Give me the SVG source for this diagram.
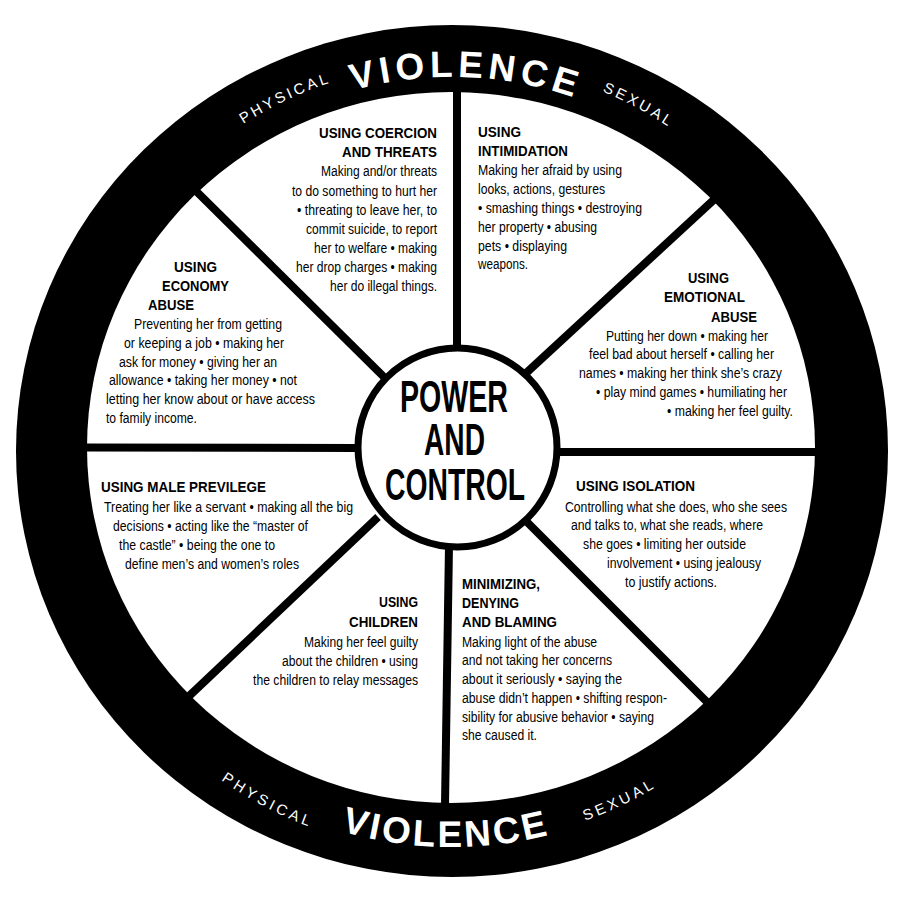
<svg xmlns="http://www.w3.org/2000/svg" xmlns:xlink="http://www.w3.org/1999/xlink" width="900" height="900" viewBox="0 0 900 900">
<style>
text{font-family:"Liberation Sans",Arial,sans-serif;fill:#000}
.h{font-size:15.5px;font-weight:bold}
.b{font-size:14px}
.c{font-size:44px;font-weight:bold}
.rimBig{font-size:37px;font-weight:bold;fill:#fff}
.rimSm{font-size:15px;fill:#fff}
.spoke{stroke:#000;stroke-width:8;fill:none}
</style>
<defs>
<path id="tV" d="M79,450 A373,373 0 0 1 825,450"/>
<path id="tP" d="M65,450 A387,387 0 0 1 839,450"/>
<path id="tS" d="M63,450 A389,389 0 0 1 841,450"/>
<path id="bP" d="M49,450 A403,403 0 0 0 855,450"/>
<path id="bV" d="M55,450 A397,397 0 0 0 849,450"/>
<path id="bS" d="M58,450 A394,394 0 0 0 846,450"/>
</defs>
<rect width="900" height="900" fill="#fff"/>
<g id="rim">
<ellipse cx="452" cy="451" rx="436" ry="426" fill="#000"/>
<ellipse cx="451" cy="447.5" rx="364" ry="355.5" fill="#fff"/>
<text class="rimBig" letter-spacing="5" text-anchor="middle"><textPath xlink:href="#tV" href="#tV" startOffset="51.2%">VIOLENCE</textPath></text>
<text class="rimSm" letter-spacing="3" text-anchor="middle"><textPath xlink:href="#tP" href="#tP" startOffset="35.9%">PHYSICAL</textPath></text>
<text class="rimSm" letter-spacing="3" text-anchor="middle"><textPath xlink:href="#tS" href="#tS" startOffset="65.8%">SEXUAL</textPath></text>
<text class="rimSm" letter-spacing="3.5" text-anchor="middle"><textPath xlink:href="#bP" href="#bP" startOffset="34.6%">PHYSICAL</textPath></text>
<text class="rimBig" letter-spacing="3" text-anchor="middle"><textPath xlink:href="#bV" href="#bV" startOffset="49.5%">VIOLENCE</textPath></text>
<text class="rimSm" letter-spacing="3.5" text-anchor="middle"><textPath xlink:href="#bS" href="#bS" startOffset="64.2%">SEXUAL</textPath></text>
</g>
<g id="connectors">
<line class="spoke" x1="457" y1="90" x2="457" y2="352"/>
<line class="spoke" x1="449" y1="545" x2="445" y2="805"/>
<line class="spoke" x1="85" y1="447.5" x2="357" y2="448"/>
<line class="spoke" x1="558" y1="452" x2="817" y2="452"/>
<line class="spoke" x1="196" y1="191" x2="386" y2="379"/>
<line class="spoke" x1="719" y1="195" x2="524" y2="375"/>
<line class="spoke" x1="186" y1="699" x2="378" y2="517"/>
<line class="spoke" x1="707" y1="702" x2="525" y2="520"/>
</g>
<g id="center">
<circle cx="457.5" cy="447.5" r="99.5" fill="#fff" stroke="#000" stroke-width="7"/>
<text class="c" x="400" y="412" textLength="108" lengthAdjust="spacingAndGlyphs">POWER</text>
<text class="c" x="424" y="455" textLength="61" lengthAdjust="spacingAndGlyphs">AND</text>
<text class="c" x="385" y="500" textLength="140" lengthAdjust="spacingAndGlyphs">CONTROL</text>
</g>
<g id="coercion">
<text class="h" x="319" y="138" textLength="118" lengthAdjust="spacingAndGlyphs">USING COERCION</text>
<text class="h" x="342" y="157" textLength="95" lengthAdjust="spacingAndGlyphs">AND THREATS</text>
<text class="b" x="321" y="176" textLength="116" lengthAdjust="spacingAndGlyphs">Making and/or threats</text>
<text class="b" x="292" y="196" textLength="145" lengthAdjust="spacingAndGlyphs">to do something to hurt her</text>
<text class="b" x="297" y="215" textLength="140" lengthAdjust="spacingAndGlyphs">• threating to leave her, to</text>
<text class="b" x="306" y="234" textLength="131" lengthAdjust="spacingAndGlyphs">commit suicide, to report</text>
<text class="b" x="314" y="253" textLength="123" lengthAdjust="spacingAndGlyphs">her to welfare • making</text>
<text class="b" x="296" y="272" textLength="141" lengthAdjust="spacingAndGlyphs">her drop charges • making</text>
<text class="b" x="330" y="291" textLength="107" lengthAdjust="spacingAndGlyphs">her do illegal things.</text>
</g>
<g id="intimidation">
<text class="h" x="478" y="137" textLength="43" lengthAdjust="spacingAndGlyphs">USING</text>
<text class="h" x="478" y="156" textLength="90" lengthAdjust="spacingAndGlyphs">INTIMIDATION</text>
<text class="b" x="478" y="175" textLength="144" lengthAdjust="spacingAndGlyphs">Making her afraid by using</text>
<text class="b" x="478" y="194" textLength="127" lengthAdjust="spacingAndGlyphs">looks, actions, gestures</text>
<text class="b" x="478" y="213" textLength="164" lengthAdjust="spacingAndGlyphs">• smashing things • destroying</text>
<text class="b" x="478" y="232" textLength="119" lengthAdjust="spacingAndGlyphs">her property • abusing</text>
<text class="b" x="478" y="251" textLength="89" lengthAdjust="spacingAndGlyphs">pets • displaying</text>
<text class="b" x="478" y="269" textLength="50" lengthAdjust="spacingAndGlyphs">weapons.</text>
</g>
<g id="emotional">
<text class="h" x="688" y="283" textLength="41" lengthAdjust="spacingAndGlyphs">USING</text>
<text class="h" x="664" y="302" textLength="81" lengthAdjust="spacingAndGlyphs">EMOTIONAL</text>
<text class="h" x="711" y="322" textLength="46" lengthAdjust="spacingAndGlyphs">ABUSE</text>
<text class="b" x="606" y="341" textLength="162" lengthAdjust="spacingAndGlyphs">Putting her down • making her</text>
<text class="b" x="589" y="359" textLength="185" lengthAdjust="spacingAndGlyphs">feel bad about herself • calling her</text>
<text class="b" x="579" y="378" textLength="203" lengthAdjust="spacingAndGlyphs">names • making her think she’s crazy</text>
<text class="b" x="596" y="397" textLength="191" lengthAdjust="spacingAndGlyphs">• play mind games • humiliating her</text>
<text class="b" x="667" y="416" textLength="126" lengthAdjust="spacingAndGlyphs">• making her feel guilty.</text>
</g>
<g id="isolation">
<text class="h" x="576" y="491" textLength="119" lengthAdjust="spacingAndGlyphs">USING ISOLATION</text>
<text class="b" x="565" y="512" textLength="222" lengthAdjust="spacingAndGlyphs">Controlling what she does, who she sees</text>
<text class="b" x="571" y="530" textLength="192" lengthAdjust="spacingAndGlyphs">and talks to, what she reads, where</text>
<text class="b" x="583" y="549" textLength="163" lengthAdjust="spacingAndGlyphs">she goes • limiting her outside</text>
<text class="b" x="607" y="568" textLength="154" lengthAdjust="spacingAndGlyphs">involvement • using jealousy</text>
<text class="b" x="625" y="587" textLength="92" lengthAdjust="spacingAndGlyphs">to justify actions.</text>
</g>
<g id="minimizing">
<text class="h" x="462" y="589" textLength="78" lengthAdjust="spacingAndGlyphs">MINIMIZING,</text>
<text class="h" x="462" y="608" textLength="57" lengthAdjust="spacingAndGlyphs">DENYING</text>
<text class="h" x="462" y="627" textLength="95" lengthAdjust="spacingAndGlyphs">AND BLAMING</text>
<text class="b" x="462" y="647" textLength="135" lengthAdjust="spacingAndGlyphs">Making light of the abuse</text>
<text class="b" x="462" y="665" textLength="150" lengthAdjust="spacingAndGlyphs">and not taking her concerns</text>
<text class="b" x="462" y="684" textLength="160" lengthAdjust="spacingAndGlyphs">about  it seriously • saying the</text>
<text class="b" x="462" y="703" textLength="205" lengthAdjust="spacingAndGlyphs">abuse didn’t happen • shifting respon-</text>
<text class="b" x="462" y="722" textLength="192" lengthAdjust="spacingAndGlyphs">sibility for abusive behavior • saying</text>
<text class="b" x="462" y="740" textLength="75" lengthAdjust="spacingAndGlyphs">she caused it.</text>
</g>
<g id="children">
<text class="h" x="379" y="607" textLength="39" lengthAdjust="spacingAndGlyphs">USING</text>
<text class="h" x="349" y="627" textLength="69" lengthAdjust="spacingAndGlyphs">CHILDREN</text>
<text class="b" x="304" y="647" textLength="114" lengthAdjust="spacingAndGlyphs">Making her feel guilty</text>
<text class="b" x="282" y="666" textLength="136" lengthAdjust="spacingAndGlyphs">about the children • using</text>
<text class="b" x="253" y="685" textLength="165" lengthAdjust="spacingAndGlyphs">the children to relay messages</text>
</g>
<g id="male-privilege">
<text class="h" x="101" y="492" textLength="165" lengthAdjust="spacingAndGlyphs">USING MALE PREVILEGE</text>
<text class="b" x="104" y="512" textLength="249" lengthAdjust="spacingAndGlyphs">Treating her like a servant • making all the big</text>
<text class="b" x="113" y="531" textLength="195" lengthAdjust="spacingAndGlyphs">decisions • acting like the “master of</text>
<text class="b" x="119" y="550" textLength="156" lengthAdjust="spacingAndGlyphs">the castle” • being the one to</text>
<text class="b" x="125" y="569" textLength="174" lengthAdjust="spacingAndGlyphs">define men’s and women’s roles</text>
</g>
<g id="economy">
<text class="h" x="174" y="272" textLength="43" lengthAdjust="spacingAndGlyphs">USING</text>
<text class="h" x="162" y="291" textLength="67" lengthAdjust="spacingAndGlyphs">ECONOMY</text>
<text class="h" x="148" y="310" textLength="46" lengthAdjust="spacingAndGlyphs">ABUSE</text>
<text class="b" x="134" y="329" textLength="148" lengthAdjust="spacingAndGlyphs">Preventing her from getting</text>
<text class="b" x="124" y="348" textLength="160" lengthAdjust="spacingAndGlyphs">or keeping a job • making her</text>
<text class="b" x="119" y="367" textLength="158" lengthAdjust="spacingAndGlyphs">ask for money • giving her an</text>
<text class="b" x="109" y="385" textLength="188" lengthAdjust="spacingAndGlyphs">allowance • taking her money • not</text>
<text class="b" x="106" y="404" textLength="209" lengthAdjust="spacingAndGlyphs">letting her know about or have  access</text>
<text class="b" x="106" y="423" textLength="91" lengthAdjust="spacingAndGlyphs">to family income.</text>
</g>
</svg>
